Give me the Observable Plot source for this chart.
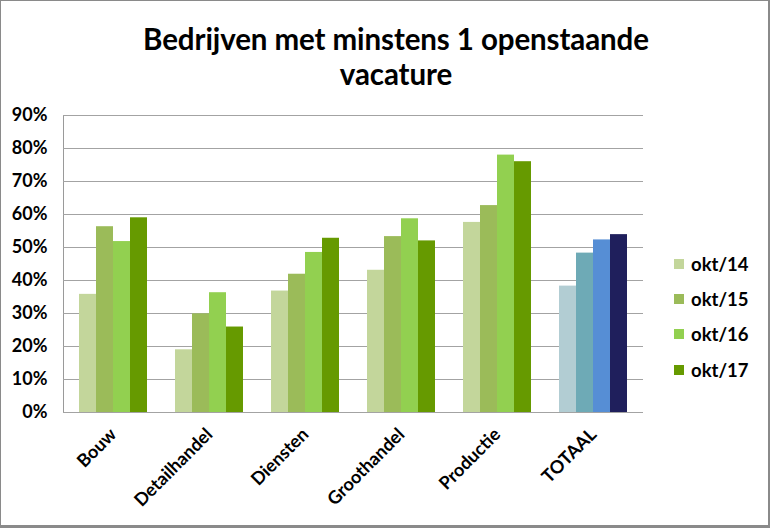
<!DOCTYPE html>
<html>
<head>
<meta charset="utf-8">
<script src="https://cdn.jsdelivr.net/npm/d3@7"></script>
<script src="https://cdn.jsdelivr.net/npm/@observablehq/plot@0.6"></script>
<style>
  html, body { margin: 0; padding: 0; background: #fff; }
  #chart { position: relative; width: 770px; height: 528px; box-sizing: border-box; overflow: hidden; }
  #border { position: absolute; left: 0; top: 0; width: 770px; height: 528px; box-sizing: border-box;
            border: 1px solid #8a8a8a; border-bottom: 3px solid #8a8a8a; border-right: 2px solid #8a8a8a; pointer-events: none; }
  #chart svg { position: absolute; left: 0; top: 0; }
  .frameplot text { fill: #000; font-size: 18px; }
  #title { position: absolute; left: 0; top: 21px; width: 792px; text-align: center;
           font-family: Lato, "Open Sans", sans-serif; font-weight: bold; font-size: 29.5px; line-height: 35px; color: #000; letter-spacing: -0.1px; }
  #legend { position: absolute; left: 674px; top: 246px; font-family: Lato, sans-serif; font-weight: bold; font-size: 18.5px; color: #000; }
  #legend .item { height: 35.3px; display: flex; align-items: center; }
  #legend .sw { width: 10px; height: 10px; margin-right: 7px; }
</style>
</head>
<body>
<div id="chart">
  <div id="title">Bedrijven met minstens 1 openstaande<br>vacature</div>
  <div id="legend"></div>
  <div id="border"></div>
</div>
<script>
const categories = ["Bouw", "Detailhandel", "Diensten", "Groothandel", "Productie", "TOTAAL"];
const series = ["okt/14", "okt/15", "okt/16", "okt/17"];
const okt14 = [0.358, 0.190, 0.368, 0.431, 0.576, 0.383];
const okt15 = [0.563, 0.299, 0.419, 0.533, 0.627, 0.483];
const okt16 = [0.518, 0.363, 0.485, 0.587, 0.780, 0.523];
const okt17 = [0.590, 0.259, 0.528, 0.520, 0.760, 0.539];
const greenColors = ["#c3d69b", "#9bbb59", "#92d050", "#669a00"];
const blueColors = ["#b2cdd3", "#6eaab6", "#568ed5", "#1f1f5c"];
const yTicks = [0, 0.1, 0.2, 0.3, 0.4, 0.5, 0.6, 0.7, 0.8, 0.9];

const seriesValues = [okt14, okt15, okt16, okt17];
const rows = [];
categories.forEach((cat, ci) => {
  series.forEach((s, si) => {
    rows.push({cat, series: s, si, value: seriesValues[si][ci]});
  });
});

const W = 770, H = 528;
const margins = {marginLeft: 63, marginRight: 127, marginTop: 115, marginBottom: 116};
const pad = {paddingInner: 0.276, paddingOuter: 0.138};

const framePlot = Plot.plot({
  width: W, height: H, ...margins,
  className: "frameplot",
  style: {background: "transparent", color: "#9a9a9a", fontFamily: "Lato, sans-serif", fontWeight: "bold", fontSize: "18px"},
  x: {domain: categories, ...pad, label: null, tickRotate: -45, tickSize: 0, tickPadding: 19},
  y: {domain: [0, 0.9], ticks: yTicks, tickFormat: d3.format(".0%"), label: null, tickSize: 0, tickPadding: 16, line: true},
  marks: [
    Plot.ruleY(yTicks, {stroke: "#a3a3a3", strokeWidth: 1.2})
  ]
});

const barPlot = Plot.plot({
  width: W, height: H, ...margins,
  style: {background: "transparent"},
  facet: {data: rows, x: "cat"},
  fx: {domain: categories, ...pad, axis: null, label: null},
  x: {domain: series, padding: 0, axis: null},
  y: {domain: [0, 0.9], axis: null},
  marks: [
    Plot.barY(rows, {
      x: "series", y: "value",
      fill: d => d.cat === "TOTAAL" ? blueColors[d.si] : greenColors[d.si]
    })
  ]
});

const chart = document.getElementById("chart");
chart.insertBefore(framePlot, chart.firstChild);
chart.insertBefore(barPlot, document.getElementById("title"));

const legend = document.getElementById("legend");
series.forEach((s, i) => {
  const item = document.createElement("div");
  item.className = "item";
  const sw = document.createElement("span");
  sw.className = "sw";
  sw.style.background = greenColors[i];
  item.appendChild(sw);
  item.appendChild(document.createTextNode(s));
  legend.appendChild(item);
});
</script>
</body>
</html>
